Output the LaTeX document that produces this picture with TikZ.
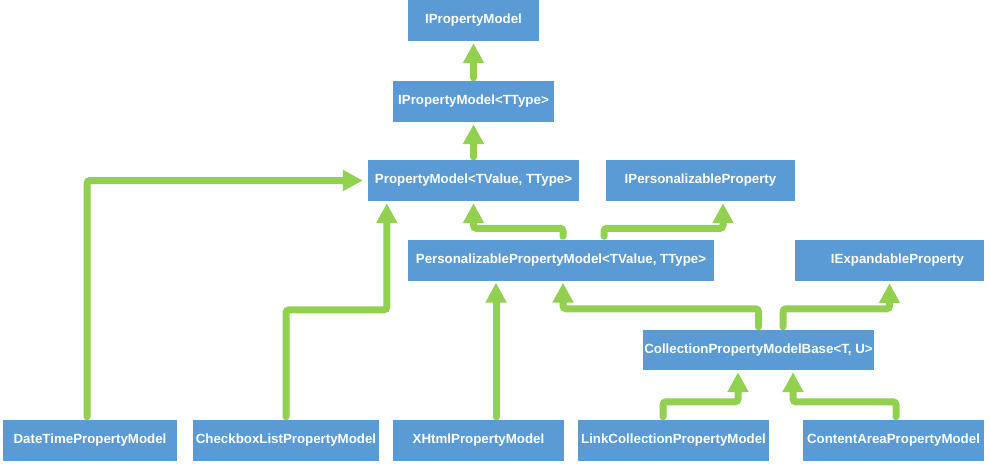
\documentclass[tikz,border=0pt]{standalone}
\usepackage{fontspec}
\setmainfont{Liberation Sans}
\usetikzlibrary{arrows.meta}
\definecolor{boxblue}{HTML}{5B9BD5}
\definecolor{linkgreen}{HTML}{92D050}

\begin{document}
\begin{tikzpicture}[x=1pt,y=-1pt,
    cls/.style={fill=boxblue,text=white,font=\fontsize{13.3}{15}\selectfont\bfseries,
      minimum height=41pt,inner sep=0pt},
    inh/.style={draw=linkgreen,line width=7pt,rounded corners=3pt,line cap=round,
      -{Triangle[width=20pt,length=20pt]},shorten <=3pt,shorten >=2pt}]
    \useasboundingbox (0,0) rectangle (990,463);
    % classes and interfaces
    \node[cls,minimum width=131pt] (ipm) at (473.5,20.5) {IPropertyModel};
    \node[cls,minimum width=161pt] (ipmt) at (473.5,101.5) {IPropertyModel<TType>};
    \node[cls,minimum width=211pt] (pm) at (473.5,180.5) {PropertyModel<TValue, TType>};
    \node[cls,minimum width=189pt] (ipp) at (700.5,180.5) {IPersonalizableProperty};
    \node[cls,minimum width=306pt] (ppm) at (561,260) {PersonalizablePropertyModel<TValue, TType>};
    \node[cls,minimum width=189pt] (iep) at (889.5,260.5) {\hspace*{16pt}IExpandableProperty};
    \node[cls,minimum width=231pt,minimum height=40pt] (cpmb) at (758.5,350) {CollectionPropertyModelBase<T, U>};
    \node[cls,minimum width=174pt] (date) at (90,440.5) {DateTimePropertyModel};
    \node[cls,minimum width=186pt] (cb) at (286,440.5) {CheckboxListPropertyModel};
    \node[cls,minimum width=171pt] (xhtml) at (478.5,440.5) {XHtmlPropertyModel};
    \node[cls,minimum width=191pt] (link) at (673.5,440.5) {LinkCollectionPropertyModel};
    \node[cls,minimum width=181pt] (ca) at (893.5,440.5) {ContentAreaPropertyModel};
    % inheritance
    \draw[inh] (ipmt.north) -- (ipm.south);
    \draw[inh] (pm.north) -- (ipmt.south);
    \draw[inh,shorten >=5pt] ([xshift=-3pt]date.north) |- (pm.west);
    \draw[inh] (cb.north) -- ++(0,-110) -| ([xshift=19pt]pm.south west);
    \draw[inh] ([xshift=17.5pt]xhtml.north) -- ([xshift=17.5pt]xhtml.north |- ppm.south);
    \draw[inh] ([xshift=2pt]ppm.north) -- ++(0,-11) -| (pm.south);
    \draw[inh] ([xshift=43pt]ppm.north) -- ++(0,-11) -| ([xshift=22.5pt]ipp.south);
    \draw[inh] (cpmb.north) -- ++(0,-21) -| ([xshift=2pt]ppm.south);
    \draw[inh] ([xshift=24.5pt]cpmb.north) -- ++(0,-21) -| (iep.south);
    \draw[inh] ([xshift=-10.5pt]link.north) -- ++(0,-18) -| ([xshift=-20.5pt]cpmb.south);
    \draw[inh] ([xshift=2.5pt]ca.north) -- ++(0,-18) -| ([xshift=34.5pt]cpmb.south);
\end{tikzpicture}
\end{document}
